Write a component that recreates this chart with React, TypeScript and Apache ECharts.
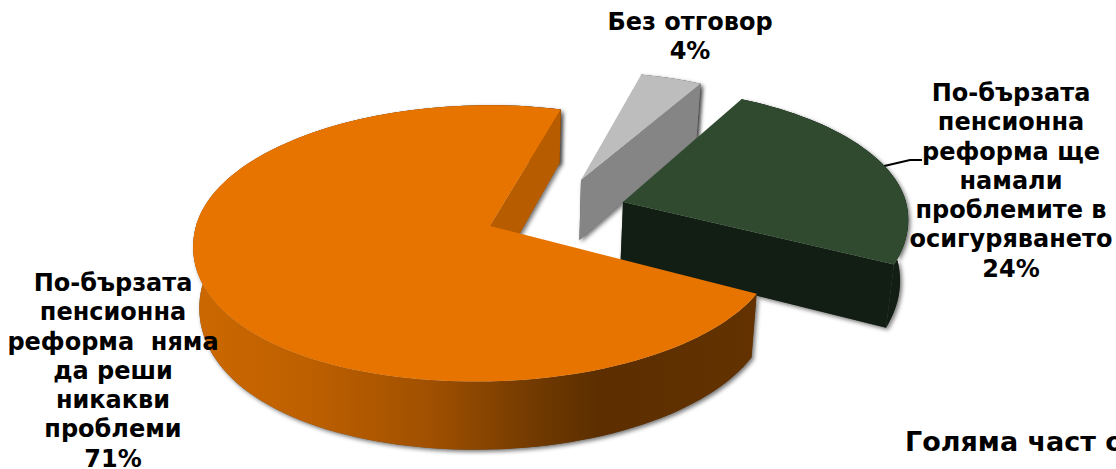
import React, { useEffect, useRef } from "react";
import * as echarts from "echarts";

// Data, clockwise from the first slice angle
const categories = [
  "По-бързата\nпенсионна\nреформа  няма\nда реши\nникакви\nпроблеми",
  "Без отговор",
  "По-бързата\nпенсионна\nреформа ще\nнамали\nпроблемите в\nосигуряването",
];
const values = [71, 4, 24];
const footerText = "Голяма част от";

// Styling
const firstAngle = 116;
const topColors = ["#E87400", "#BDBDBD", "#2F4A2F"];
const endWallColors = ["#B85C00", "#858585", "#121E14"];
const rimStops = [
  [[0, "#CC6800"], [0.2, "#BE6000"], [0.42, "#A05000"], [0.62, "#6E3800"], [0.72, "#5C2E00"], [1, "#633200"]],
  [[0, "#8A8A8A"], [1, "#808080"]],
  [[0, "#121E14"], [1, "#121E14"]],
];
const geometry = [
  { apexX: 490, apexY: 226, aRight: 285, aLeft: 294, bFar: 136, bNear: 136, turn: 2, bulge: 1 },
  { apexX: 581, apexY: 180, aRight: 276, aLeft: 276, bFar: 122, bNear: 122, turn: 0, bulge: 0 },
  { apexX: 623, apexY: 202, aRight: 283, aLeft: 283, bFar: 129, bNear: 140, turn: -1, bulge: 0 },
];
const drawOrder = [1, 2, 0];
const labels = [
  { x: 113, y: 283 },
  { x: 690, y: 22 },
  { x: 1011, y: 93 },
];

const K = 0.126;
const DEPTH = 60;
const DEPTH_K = 0.12;
const LINE_H = 29.3;
const RAD = Math.PI / 180;

const total = values.reduce((a, b) => a + b, 0);
const spans = (() => {
  let a = firstAngle;
  return values.map((v) => {
    const start = a;
    a += (v / total) * 360;
    return { start, end: a };
  });
})();

function rimPoint(g: any, bearing: number) {
  const s = Math.sin(bearing * RAD);
  const c = Math.cos(bearing * RAD);
  const p = 1 + K * c;
  const A = s < 0 ? g.aLeft : g.aRight;
  const B = c > 0 ? g.bFar : g.bNear;
  const lean = c < 0 ? -g.bulge * c * c * (14 - 12 * s) : 0;
  return { x: g.apexX + (A * s) / p + lean, y: g.apexY - (B * c) / p, c };
}
function lower(pt: { x: number; y: number; c: number }) {
  return [pt.x + (500 - pt.x) * 0.02, pt.y + DEPTH / (1 + DEPTH_K * pt.c)];
}

function renderSlice(params: any) {
  const i = drawOrder[params.dataIndex];
  const g = geometry[i];
  const start = spans[i].start + g.turn;
  const end = spans[i].end + g.turn;
  const rim: any[] = [];
  const n = Math.max(2, Math.ceil((end - start) / 2));
  for (let k = 0; k <= n; k++) rim.push(rimPoint(g, start + ((end - start) * k) / n));
  const top = rim.map((p) => [p.x, p.y]);
  const bottom = rim.map(lower);
  const apex = { x: g.apexX, y: g.apexY, c: 0 };
  const endPt = rim[rim.length - 1];
  const rimPoints = [...top, ...bottom.slice().reverse()];
  const wallPoints = [[apex.x, apex.y], [endPt.x, endPt.y], lower(endPt), lower(apex)];
  const shadow = { fill: "#555", shadowBlur: 4, shadowOffsetX: 2, shadowOffsetY: 2, shadowColor: "rgba(0,0,0,0.55)" };
  return {
    type: "group",
    children: [
      { type: "polygon", shape: { points: rimPoints }, style: shadow },
      { type: "polygon", shape: { points: wallPoints }, style: shadow },
      {
        type: "polygon",
        shape: { points: rimPoints },
        style: {
          fill: new echarts.graphic.LinearGradient(
            0, 0, 1, 0,
            rimStops[i].map(([offset, color]: any) => ({ offset, color }))
          ),
        },
      },
      { type: "polygon", shape: { points: wallPoints }, style: { fill: endWallColors[i] } },
      { type: "polygon", shape: { points: [[apex.x, apex.y], ...top] }, style: { fill: topColors[i] } },
    ],
  };
}

const textStyle = {
  fontFamily: "'DejaVu Sans'",
  fontWeight: "bold",
  fontSize: 24,
  fill: "#000",
};

export default function App() {
  const ref = useRef<HTMLDivElement>(null);
  useEffect(() => {
    document.body.style.margin = "0";
    const chart = echarts.init(ref.current!, null, { renderer: "svg" });
    chart.setOption({
      animation: false,
      backgroundColor: "#fff",
      series: [
        {
          type: "custom",
          coordinateSystem: "none",
          silent: true,
          data: drawOrder.map((i) => values[i]),
          renderItem: renderSlice,
          z: 2,
        },
      ],
      graphic: [
        {
          type: "polyline",
          z: 1,
          shape: { points: [[880, 167], [910, 160], [922, 160]] },
          style: { stroke: "#000", lineWidth: 2, fill: "none" },
        },
        ...labels.map((l, i) => ({
          type: "text",
          z: 10,
          x: l.x,
          y: l.y - LINE_H / 2,
          style: {
            ...textStyle,
            text: `${categories[i]}\n${values[i]}%`,
            align: "center",
            verticalAlign: "top",
            lineHeight: LINE_H,
          },
        })),
        {
          type: "text",
          z: 10,
          x: 905,
          y: 441,
          style: { ...textStyle, fontSize: 27, text: footerText, align: "left", verticalAlign: "middle" },
        },
      ],
    });
    return () => chart.dispose();
  }, []);
  return <div ref={ref} style={{ width: 1116, height: 469 }} />;
}
